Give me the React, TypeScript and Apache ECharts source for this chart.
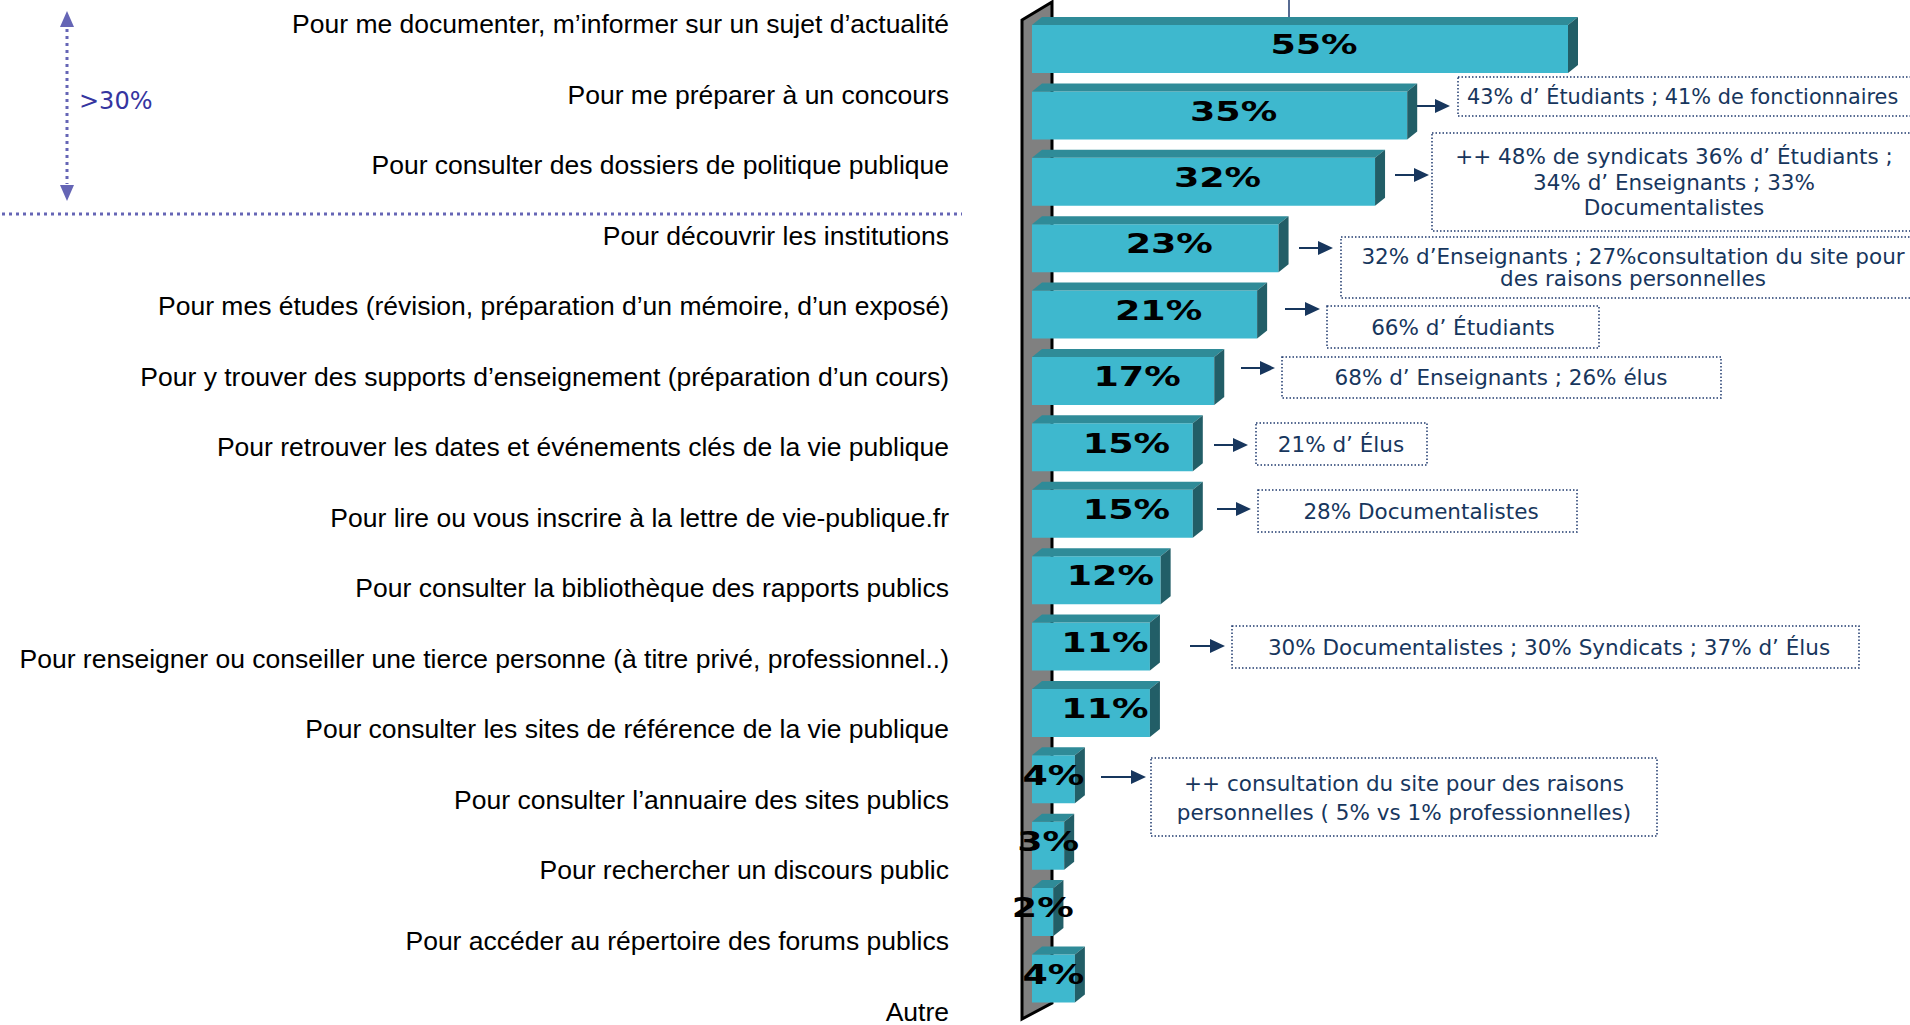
import React, { useEffect, useRef } from 'react';
import * as echarts from 'echarts';

const CATEGORIES: string[] = [
  'Pour me documenter, m’informer sur un sujet d’actualité',
  'Pour me préparer à un concours',
  'Pour consulter des dossiers de politique publique',
  'Pour découvrir les institutions',
  'Pour mes études (révision, préparation d’un mémoire, d’un exposé)',
  'Pour y trouver des supports d’enseignement (préparation d’un cours)',
  'Pour retrouver les dates et événements clés de la vie publique',
  'Pour lire ou vous inscrire à la lettre de vie-publique.fr',
  'Pour consulter la bibliothèque des rapports publics',
  'Pour renseigner ou conseiller une tierce personne (à titre privé, professionnel..)',
  'Pour consulter les sites de référence de la vie publique',
  'Pour consulter l’annuaire des sites publics',
  'Pour rechercher un discours public',
  'Pour accéder au répertoire des forums publics',
  'Autre',
];

const VALUES: number[] = [55, 35, 32, 23, 21, 17, 15, 15, 12, 11, 11, 4, 3, 2, 4];

const NOTE_TEXTS: string[] = [
  '43% d’ Étudiants ; 41% de fonctionnaires',
  '++ 48% de syndicats 36% d’ Étudiants ;\n34% d’ Enseignants ; 33%\nDocumentalistes',
  '32% d’Enseignants ; 27%consultation du site pour\ndes raisons personnelles',
  '66% d’ Étudiants',
  '68% d’ Enseignants ; 26% élus',
  '21% d’ Élus',
  '28% Documentalistes',
  '30% Documentalistes ; 30% Syndicats ; 37% d’ Élus',
  '++ consultation du site pour des raisons\npersonnelles ( 5% vs 1% professionnelles)',
];

const SIDE_NOTE = '>30%';

// axis scale (the longest bar is cut at the axis maximum, as in the original)
const X_MAX = 50;

// styles / layout
const FRONT = '#3EB8CE';
const TOP = '#2F8B98';
const SIDE = '#225E67';
const NAVY = '#17365D';
const BOX = '#1F3A6E';
const PURPLE = '#6565B5';
const DX = 10;
const DY = 8;
const BAR_RATIO = 0.723;

const NOTE_LAYOUT = [
  { ax1: 1415, ax2: 1450, ay: 106, bx: 1458, by: 77, bw: 480, bh: 39, tx: 1467, ty: 97, align: 'left', lh: 26, fs: 20.8 },
  { ax1: 1395, ax2: 1429, ay: 175, bx: 1432, by: 133, bw: 500, bh: 98, tx: 1674, ty: 182, align: 'center', lh: 25.5, fs: 21.5 },
  { ax1: 1299, ax2: 1333, ay: 248, bx: 1341, by: 237, bw: 590, bh: 61, tx: 1633, ty: 267, align: 'center', lh: 22, fs: 21.5 },
  { ax1: 1285, ax2: 1320, ay: 309, bx: 1327, by: 306, bw: 272, bh: 42, tx: 1463, ty: 327, align: 'center', lh: 24, fs: 21.5 },
  { ax1: 1241, ax2: 1275, ay: 368, bx: 1282, by: 357, bw: 439, bh: 41, tx: 1501, ty: 377, align: 'center', lh: 24, fs: 21.5 },
  { ax1: 1214, ax2: 1248, ay: 445, bx: 1256, by: 423, bw: 171, bh: 42, tx: 1341, ty: 444, align: 'center', lh: 24, fs: 21.5 },
  { ax1: 1217, ax2: 1251, ay: 509, bx: 1258, by: 490, bw: 319, bh: 42, tx: 1421, ty: 511, align: 'center', lh: 24, fs: 21.5 },
  { ax1: 1190, ax2: 1225, ay: 646, bx: 1232, by: 626, bw: 627, bh: 42, tx: 1549, ty: 647, align: 'center', lh: 24, fs: 21.5 },
  { ax1: 1101, ax2: 1146, ay: 777, bx: 1151, by: 758, bw: 506, bh: 78, tx: 1404, ty: 798, align: 'center', lh: 29, fs: 21.5 },
];

function buildGraphics(): any[] {
  const els: any[] = [];
  // 3D wall
  els.push({
    type: 'polygon',
    z: -10,
    shape: { points: [[1022, 20], [1052, 2], [1052, 1003], [1022, 1019]] },
    style: { fill: '#808080', stroke: '#000', lineWidth: 3 },
  });
  // small connector line at the top
  els.push({
    type: 'line',
    z: -5,
    shape: { x1: 1289, y1: 0, x2: 1289, y2: 17 },
    style: { stroke: BOX, lineWidth: 1.5 },
  });
  // left >30% bracket
  els.push({
    type: 'line',
    shape: { x1: 67, y1: 29, x2: 67, y2: 184 },
    style: { stroke: PURPLE, lineWidth: 3, lineDash: [3, 4] },
  });
  els.push({ type: 'polygon', shape: { points: [[67, 11], [60, 27], [74, 27]] }, style: { fill: PURPLE } });
  els.push({ type: 'polygon', shape: { points: [[67, 201], [60, 185], [74, 185]] }, style: { fill: PURPLE } });
  els.push({
    type: 'text',
    x: 79,
    y: 101,
    style: { text: SIDE_NOTE, font: '24px "DejaVu Sans"', fill: '#3535A0', align: 'left', verticalAlign: 'middle' },
  });
  els.push({
    type: 'line',
    shape: { x1: 2, y1: 214, x2: 962, y2: 214 },
    style: { stroke: PURPLE, lineWidth: 3, lineDash: [3, 4] },
  });
  // notes
  NOTE_TEXTS.forEach((t, i) => {
    const L: any = NOTE_LAYOUT[i];
    els.push({
      type: 'line',
      shape: { x1: L.ax1, y1: L.ay, x2: L.ax2 - 10, y2: L.ay },
      style: { stroke: NAVY, lineWidth: 2 },
    });
    els.push({
      type: 'polygon',
      shape: { points: [[L.ax2, L.ay], [L.ax2 - 15, L.ay - 7], [L.ax2 - 15, L.ay + 7]] },
      style: { fill: NAVY },
    });
    els.push({
      type: 'rect',
      shape: { x: L.bx, y: L.by, width: L.bw, height: L.bh },
      style: { fill: 'none', stroke: BOX, lineWidth: 1.5, lineDash: [1.5, 2] },
    });
    els.push({
      type: 'text',
      x: L.tx,
      y: L.ty,
      style: {
        text: t,
        font: L.fs + 'px "DejaVu Sans"',
        fill: NAVY,
        align: L.align,
        verticalAlign: 'middle',
        lineHeight: L.lh,
      },
    });
  });
  return els;
}

export default function App() {
  const ref = useRef<HTMLDivElement>(null);

  useEffect(() => {
    document.body.style.margin = '0';
    if (!ref.current) return;
    const chart = echarts.init(ref.current, undefined, { renderer: 'svg' });

    const option: any = {
      animation: false,
      backgroundColor: '#ffffff',
      grid: [
        { left: 1032, top: 15.8, width: 536, height: 995.9, outerBoundsMode: 'none' },
        { left: 949, top: 24, width: 2, height: 987.5, outerBoundsMode: 'none' },
      ],
      xAxis: [
        { type: 'value', gridIndex: 0, min: 0, max: X_MAX, show: false },
        { type: 'value', gridIndex: 1, min: 0, max: 1, show: false },
      ],
      yAxis: [
        {
          type: 'category',
          gridIndex: 0,
          data: CATEGORIES,
          inverse: true,
          axisLine: { show: false },
          axisTick: { show: false },
          axisLabel: { show: false },
          splitLine: { show: false },
        },
        {
          type: 'category',
          gridIndex: 1,
          data: CATEGORIES,
          inverse: true,
          boundaryGap: false,
          axisLine: { show: false },
          axisTick: { show: false },
          splitLine: { show: false },
          axisLabel: {
            interval: 0,
            margin: 0,
            color: '#000',
            fontFamily: '"Liberation Sans", Arial, sans-serif',
            fontSize: 26.5,
          },
        },
      ],
      series: [
        {
          type: 'custom',
          xAxisIndex: 0,
          yAxisIndex: 0,
          clip: false,
          encode: { x: 0, y: 1 },
          data: VALUES.map((v, i) => [v, i]),
          renderItem: (params: any, api: any) => {
            const v = api.value(0) as number;
            const idx = api.value(1) as number;
            const p0 = api.coord([0, idx]);
            const p1 = api.coord([Math.min(v, X_MAX), idx]);
            const band = api.size([0, 1])[1];
            const h = band * BAR_RATIO;
            const x0 = p0[0];
            const x1 = p1[0];
            const yT = p0[1] - h / 2;
            const yB = p0[1] + h / 2;
            const w = x1 - x0;
            const shift = Math.max(0, Math.min(14, (w - 45) * 0.3));
            return {
              type: 'group',
              children: [
                { type: 'rect', shape: { x: x0, y: yT, width: w, height: h }, style: { fill: FRONT } },
                {
                  type: 'polygon',
                  shape: { points: [[x0, yT], [x1, yT], [x1 + DX, yT - DY], [x0 + DX, yT - DY]] },
                  style: { fill: TOP },
                },
                {
                  type: 'polygon',
                  shape: { points: [[x1, yT], [x1 + DX, yT - DY], [x1 + DX, yB - DY], [x1, yB]] },
                  style: { fill: SIDE },
                },
                {
                  type: 'text',
                  x: x0 + w / 2 + shift,
                  y: p0[1] - 4,
                  scaleX: 1.35,
                  style: {
                    text: v + '%',
                    font: 'bold 27px "DejaVu Sans"',
                    fill: '#000',
                    align: 'center',
                    verticalAlign: 'middle',
                  },
                },
              ],
            };
          },
        },
      ],
      graphic: buildGraphics(),
    };

    chart.setOption(option);
    return () => chart.dispose();
  }, []);

  return <div ref={ref} style={{ width: 1910, height: 1025 }} />;
}
